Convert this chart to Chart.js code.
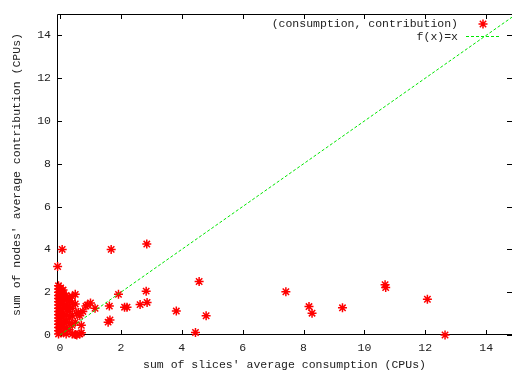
<!DOCTYPE html>
<html>
<head>
<meta charset="utf-8">
<script src="https://cdn.jsdelivr.net/npm/chart.js@4"></script>
<style>
  body { margin: 0; background: #fff; }
  canvas { display: block; }
</style>
</head>
<body>
<canvas id="scatterChart" width="512" height="372"></canvas>
<script>
// slices' consumption (x) vs nodes' contribution (y), CPUs
const consumption = [
  -0.05, -0.05, -0.05, -0.05, -0.05, -0.05, -0.05, -0.05, -0.05, -0.05, -0.05, -0.05, -0.05, -0.05, -0.05, -0.05,
  0.02, 0.02, 0.02, 0.02, 0.02, 0.02, 0.02, 0.02, 0.02, 0.02, 0.02, 0.02,
  0.1, 0.1, 0.1, 0.1, 0.1, 0.1, 0.1, 0.1, 0.1, 0.1,
  0.2, 0.2, 0.2, 0.2, 0.2, 0.2, 0.2, 0.2,
  0.3, 0.3, 0.3, 0.3, 0.3, 0.3, 0.3,
  0.4, 0.4, 0.4, 0.4, 0.4, 0.4,
  0.5, 0.5, 0.5, 0.5,
  0.55, 0.55, 0.65, 0.65, 0.7, 0.7,
  0.85, 0.9, 1.0, 1.15, 0.6, 0.75,
  -0.08, 0.07, 1.68, 2.85, 1.92, 1.62, 1.58, 1.64, 2.12, 2.2, 2.63, 2.86, 2.83,
  3.82, 4.57, 4.8, 4.45, 7.42, 8.18, 8.28, 9.28, 10.68, 10.7, 12.07, 12.65
];
const contribution = [
  0.05, 0.2, 0.35, 0.5, 0.65, 0.8, 0.95, 1.1, 1.25, 1.4, 1.55, 1.7, 1.85, 2.0, 2.15, 2.3,
  0.1, 0.3, 0.5, 0.7, 0.9, 1.05, 1.2, 1.45, 1.6, 1.8, 2.0, 2.2,
  0.15, 0.4, 0.6, 0.85, 1.0, 1.3, 1.5, 1.75, 1.95, 2.1,
  0.05, 0.35, 0.65, 0.95, 1.2, 1.4, 1.65, 1.85,
  0.25, 0.55, 0.8, 1.1, 1.35, 1.6, 1.75,
  0.05, 0.45, 0.9, 1.25, 1.5, 1.8,
  0.02, 0.6, 1.45, 1.9,
  0.0, 1.0, 0.05, 0.9, 0.1, 0.45,
  1.35, 1.4, 1.5, 1.25, 1.05, 1.1,
  3.2, 4.0, 4.0, 4.25, 1.9, 1.35, 0.6, 0.7, 1.3, 1.3, 1.42, 1.52, 2.05,
  1.12, 2.5, 0.9, 0.12, 2.02, 1.33, 1.02, 1.27, 2.35, 2.22, 1.67, 0.0
];
const identityX = [0, 15];
const tickValues = [0, 2, 4, 6, 8, 10, 12, 14];

const FONT = { family: '"Liberation Mono", "DejaVu Sans Mono", monospace', size: 11.5 };
const TEXT = '#222';

const points = consumption.map((x, i) => ({ x: x, y: contribution[i] }));

// gnuplot-ish frame: border plus inward ticks on all four sides
const framePlugin = {
  id: 'frame',
  beforeDatasetsDraw(chart) {
    const { ctx, chartArea: a, scales } = chart;
    ctx.save();
    ctx.strokeStyle = '#000';
    ctx.lineWidth = 1;
    ctx.beginPath();
    ctx.moveTo(a.right, a.top + 0.5);
    ctx.lineTo(a.left + 0.5, a.top + 0.5);
    ctx.lineTo(a.left + 0.5, a.bottom - 0.5);
    ctx.lineTo(a.right, a.bottom - 0.5);
    scales.x.ticks.forEach(t => {
      const px = Math.round(scales.x.getPixelForValue(t.value)) + 0.5;
      ctx.moveTo(px, a.bottom); ctx.lineTo(px, a.bottom - 5);
      ctx.moveTo(px, a.top); ctx.lineTo(px, a.top + 5);
    });
    scales.y.ticks.forEach(t => {
      const py = Math.round(scales.y.getPixelForValue(t.value)) + 0.5;
      ctx.moveTo(a.left, py); ctx.lineTo(a.left + 5, py);
      ctx.moveTo(a.right, py); ctx.lineTo(a.right - 5, py);
    });
    ctx.stroke();
    ctx.restore();
  },
  afterDraw(chart) {
    const { ctx } = chart;
    const ds = chart.data.datasets;
    ctx.save();
    ctx.font = FONT.size + 'px ' + FONT.family;
    ctx.fillStyle = TEXT;
    ctx.textAlign = 'right';
    ctx.textBaseline = 'middle';
    ctx.fillText(ds[0].label, 458, 24);
    ctx.fillText(ds[1].label, 458, 37);
    // star sample
    const cx = 483, cy = 24, r = 4.5;
    ctx.strokeStyle = ds[0].borderColor;
    ctx.lineWidth = ds[0].borderWidth;
    ctx.beginPath();
    ctx.moveTo(cx - r, cy); ctx.lineTo(cx + r, cy);
    ctx.moveTo(cx, cy - r); ctx.lineTo(cx, cy + r);
    const d = r * Math.SQRT1_2;
    ctx.moveTo(cx - d, cy - d); ctx.lineTo(cx + d, cy + d);
    ctx.moveTo(cx - d, cy + d); ctx.lineTo(cx + d, cy - d);
    ctx.stroke();
    // dashed line sample
    ctx.strokeStyle = ds[1].borderColor;
    ctx.lineWidth = 1;
    ctx.setLineDash(ds[1].borderDash);
    ctx.beginPath();
    ctx.moveTo(466, 36.5); ctx.lineTo(500, 36.5);
    ctx.stroke();
    ctx.restore();
  }
};

new Chart(document.getElementById('scatterChart'), {
  type: 'scatter',
  data: {
    datasets: [{
      label: '(consumption, contribution)',
      data: points,
      pointStyle: 'star',
      radius: 4.5,
      borderColor: '#ff0000',
      backgroundColor: '#ff0000',
      borderWidth: 1.5,
      clip: false,
      order: 2
    }, {
      label: 'f(x)=x',
      type: 'line',
      data: identityX.map(v => ({ x: v, y: v })),
      borderColor: '#00e600',
      borderWidth: 1,
      borderDash: [3, 2],
      pointRadius: 0,
      fill: false,
      order: 1
    }]
  },
  options: {
    responsive: false,
    animation: false,
    devicePixelRatio: 1,
    layout: { autoPadding: false, padding: { top: 14, right: 0, left: 0, bottom: 0 } },
    plugins: { legend: { display: false }, tooltip: { enabled: false } },
    scales: {
      x: {
        type: 'linear',
        min: -0.1,
        max: 14.85,
        afterFit: s => { s.height = 37; s.paddingLeft = 0; s.paddingRight = 0; },
        afterBuildTicks: s => { s.ticks = tickValues.map(v => ({ value: v })); },
        ticks: { font: FONT, color: TEXT, padding: 6, maxRotation: 0 },
        grid: { display: false, drawTicks: false },
        border: { display: false },
        title: {
          display: true, text: "sum of slices' average consumption (CPUs)",
          font: FONT, color: TEXT, padding: { top: 0, bottom: 0 }
        }
      },
      y: {
        min: 0,
        max: 15,
        afterFit: s => { s.width = 57; s.paddingTop = 0; s.paddingBottom = 0; },
        afterBuildTicks: s => { s.ticks = tickValues.map(v => ({ value: v })); },
        ticks: { font: FONT, color: TEXT, padding: 6 },
        grid: { display: false, drawTicks: false },
        border: { display: false },
        title: {
          display: true, text: "sum of nodes' average contribution (CPUs)",
          font: FONT, color: TEXT, padding: { top: 10, bottom: 0 }
        }
      }
    }
  },
  plugins: [framePlugin]
});
</script>
</body>
</html>
